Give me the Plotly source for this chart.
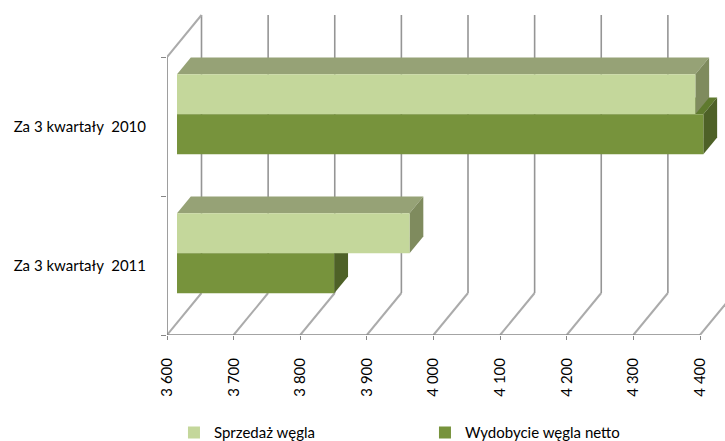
import plotly.graph_objects as go

# ---- data -------------------------------------------------------------
categories = ["Za 3 kwartały  2011", "Za 3 kwartały  2010"]
series_names = ["Sprzedaż węgla", "Wydobycie węgla netto"]
sprzedaz = [3949, 4378]
wydobycie = [3836, 4390]
tick_values = [3600, 3700, 3800, 3900, 4000, 4100, 4200, 4300, 4400]
tick_labels = ["3 600", "3 700", "3 800", "3 900", "4 000", "4 100", "4 200", "4 300", "4 400"]

# ---- geometry of the pseudo-3D box -----------------------------------
W, H = 725, 441
ML, MR, MT, MB = 167, 0, 0, 106
plot_w, plot_h = W - ML - MR, H - MT - MB
base = tick_values[0]
px_per_unit = 533 / (tick_values[-1] - tick_values[0])
px_per_cat = 139
x_range = [base, base + plot_w / px_per_unit]
y_range = [-0.5, -0.5 + plot_h / px_per_cat]

DX = 34.5 / px_per_unit      # full depth, value units
DY = 42 / px_per_cat         # full depth, category units
D0, D1 = 0.29, 0.69          # depth span of the bars
BAR_H = 0.288
offsets = [0.144, -0.144]    # light series above, dark below

light_front = "#C4D79B"
light_top = "#96A276"
light_side = "#7F8B5E"
dark_front = "#77933C"
dark_top = "#5F7A2E"
dark_side = "#4E6127"
grid_col = "#959595"
floor_col = "#ABABAB"
font = dict(family="Lato, Liberation Sans, sans-serif", size=15, color="#000000")


def proj(v, c, d):
    return v + d * DX, c + d * DY


def path(points):
    return "M " + " L ".join(f"{x},{y}" for x, y in points) + " Z"


shapes = []

def line(p, q, color, width, layer="below"):
    shapes.append(dict(type="line", xref="x", yref="y", x0=p[0], y0=p[1], x1=q[0], y1=q[1],
                       line=dict(color=color, width=width), layer=layer))

# back wall gridlines and floor diagonals
for v in tick_values:
    line(proj(v, -0.5, 1), proj(v, 1.5, 1), grid_col, 1.6)
    line(proj(v, -0.5, 0), proj(v, -0.5, 1), floor_col, 2)
# left wall
line(proj(base, -0.5, 0), proj(base, 1.5, 0), "#868686", 1.6)
line(proj(base, 1.5, 0), proj(base, 1.5, 1), floor_col, 2)
# front axis line
line(proj(base, -0.5, 0), proj(tick_values[-1], -0.5, 0), "#868686", 1.6)


def faces(val, c, fill_top, fill_side):
    top = c + BAR_H / 2
    bot = c - BAR_H / 2
    shapes.append(dict(type="path", xref="x", yref="y", layer="below", line=dict(width=0),
                       fillcolor=fill_top,
                       path=path([proj(base, top, D0), proj(val, top, D0),
                                  proj(val, top, D1), proj(base, top, D1)])))
    shapes.append(dict(type="path", xref="x", yref="y", layer="below", line=dict(width=0),
                       fillcolor=fill_side,
                       path=path([proj(val, bot, D0), proj(val, top, D0),
                                  proj(val, top, D1), proj(val, bot, D1)])))

# dark bars first (their top faces sit behind the light bars)
for i in range(len(categories)):
    faces(wydobycie[i], i + offsets[1], dark_top, dark_side)
for i in range(len(categories)):
    faces(sprzedaz[i], i + offsets[0], light_top, light_side)

fig = go.Figure()
for name, vals, off, col in [(series_names[0], sprzedaz, offsets[0], light_front),
                             (series_names[1], wydobycie, offsets[1], dark_front)]:
    fig.add_trace(go.Bar(
        name=name, orientation="h",
        y=[i + off for i in range(len(categories))],
        x=[v - base for v in vals], base=base,
        width=BAR_H, marker=dict(color=col, line=dict(width=0)),
        xaxis="x2", yaxis="y2", hoverinfo="skip",
    ))

fig.update_layout(
    width=W, height=H,
    margin=dict(l=ML, r=MR, t=MT, b=MB, autoexpand=False),
    paper_bgcolor="white", plot_bgcolor="rgba(0,0,0,0)",
    barmode="overlay", font=font, shapes=shapes,
    xaxis=dict(range=x_range, tickvals=tick_values, ticktext=tick_labels, tickangle=-90,
               showgrid=False, zeroline=False, showline=False, automargin=False,
               ticks="outside", ticklen=4, tickcolor="#868686", ticklabelstandoff=12,
               tickfont=font),
    yaxis=dict(range=y_range, tickvals=[0, 1], ticktext=categories, automargin=False,
               showgrid=False, zeroline=False, showline=False, ticks="",
               ticklabelstandoff=20, tickfont=font,
               minor=dict(tickvals=[-0.5, 0.5, 1.5], ticks="outside", ticklen=5,
                          tickcolor="#868686", showgrid=False)),
    xaxis2=dict(overlaying="x", range=[x_range[0] - D0 * DX, x_range[1] - D0 * DX],
                visible=False),
    yaxis2=dict(overlaying="y", range=[y_range[0] - D0 * DY, y_range[1] - D0 * DY],
                visible=False),
    legend=dict(orientation="h", x=0.0125, xanchor="left", y=-0.292, yanchor="middle",
                entrywidth=206, entrywidthmode="pixels", font=font,
                bgcolor="rgba(0,0,0,0)"),
)

fig.write_html("out.html")
